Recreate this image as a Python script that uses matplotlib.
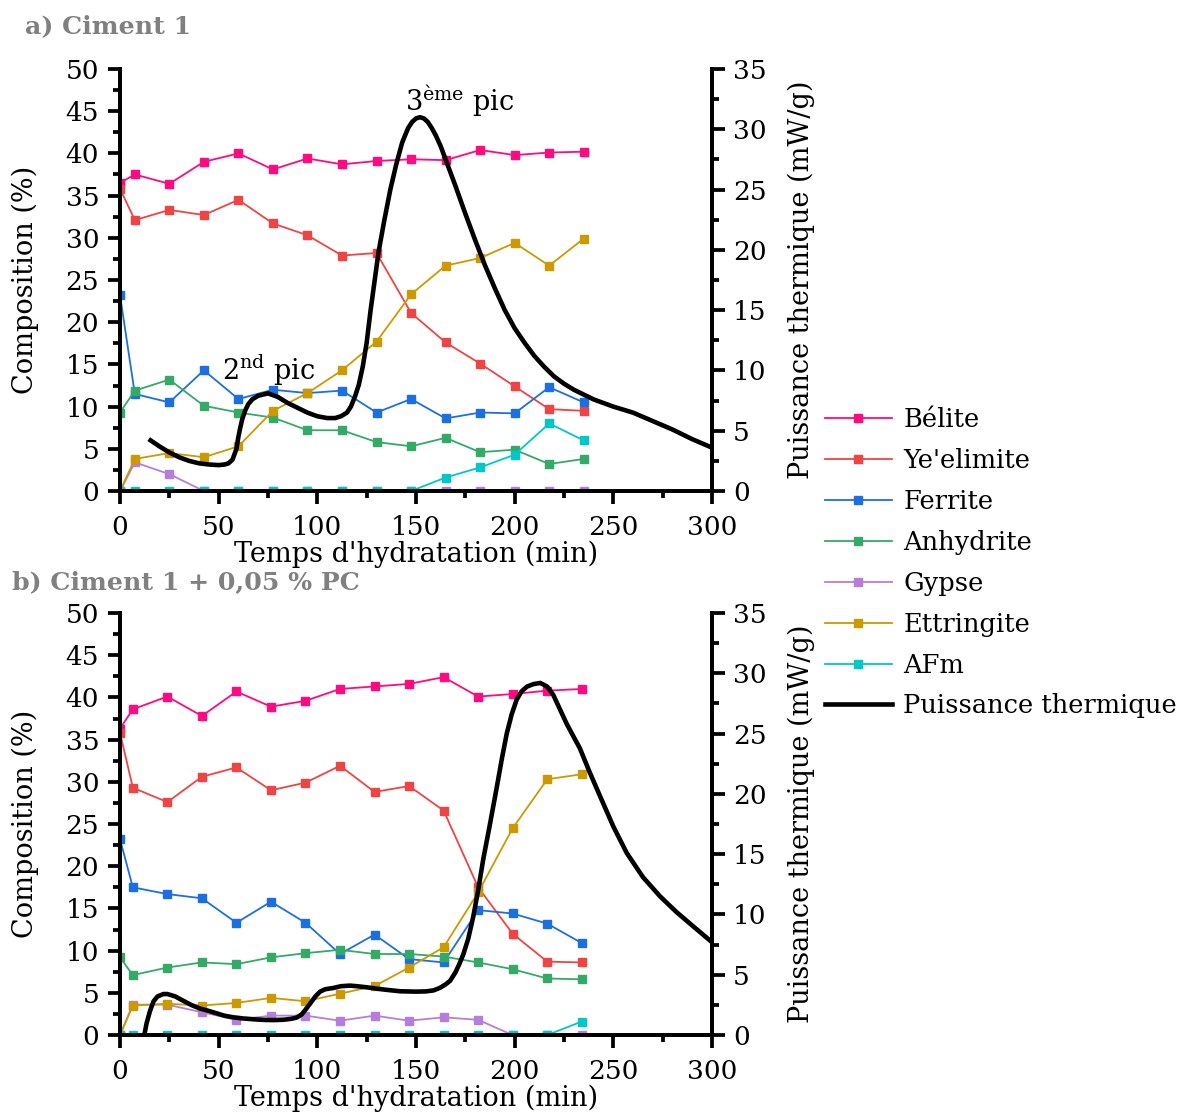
import numpy as np
import matplotlib
matplotlib.use("Agg")
import matplotlib.pyplot as plt
from matplotlib.ticker import MultipleLocator

plt.rcParams['font.family'] = ['DejaVu Serif']
plt.rcParams['mathtext.fontset'] = 'dejavuserif'

# temps des mesures DRX (min)
t_a = [0, 7.5, 25, 42.5, 60, 77.5, 95, 112.5, 130, 147.5, 165, 182.5, 200, 217.5, 235]
t_b = [0, 6.5, 24, 41.5, 59, 76.5, 94, 111.5, 129, 146.5, 164, 181.5, 199, 216.5, 234]

# a) Ciment 1
belite_a = [36.5, 37.5, 36.4, 39.0, 40.0, 38.1, 39.4, 38.7, 39.1, 39.3, 39.2, 40.4, 39.8, 40.1, 40.2]
yeelimite_a = [35.8, 32.1, 33.3, 32.7, 34.5, 31.7, 30.3, 27.9, 28.2, 21.1, 17.6, 15.1, 12.4, 9.7, 9.5]
ferrite_a = [23.2, 11.5, 10.5, 14.3, 10.9, 12.0, 11.6, 11.9, 9.3, 10.9, 8.6, 9.3, 9.2, 12.3, 10.5]
anhydrite_a = [9.3, 11.9, 13.2, 10.1, 9.3, 8.7, 7.2, 7.2, 5.8, 5.3, 6.3, 4.6, 4.9, 3.2, 3.8]
gypse_a = [0, 3.4, 2.0, 0, 0, 0, 0, 0, 0, 0, 0, 0, 0, 0, 0]
ettringite_a = [0, 3.8, 4.5, 4.0, 5.3, 9.5, 11.6, 14.3, 17.7, 23.3, 26.7, 27.6, 29.4, 26.7, 29.9]
afm_a = [0, 0, 0, 0, 0, 0, 0, 0, 0, 0, 1.6, 2.8, 4.3, 8.0, 6.0]

# b) Ciment 1 + 0,05 % PC
belite_b = [36.3, 38.6, 40.1, 37.8, 40.7, 38.9, 39.6, 41.0, 41.3, 41.6, 42.4, 40.1, 40.4, 40.8, 41.0]
yeelimite_b = [35.8, 29.3, 27.6, 30.6, 31.7, 29.0, 29.9, 31.9, 28.8, 29.5, 26.6, 17.5, 12.0, 8.7, 8.6]
ferrite_b = [23.2, 17.5, 16.7, 16.2, 13.3, 15.8, 13.3, 9.6, 11.9, 9.0, 8.6, 14.8, 14.4, 13.2, 10.9]
anhydrite_b = [9.2, 7.1, 8.0, 8.6, 8.4, 9.2, 9.7, 10.1, 9.6, 9.6, 9.3, 8.6, 7.8, 6.7, 6.6]
gypse_b = [0, 3.6, 3.6, 2.7, 1.8, 2.3, 2.3, 1.7, 2.3, 1.7, 2.1, 1.8, 0, 0, 0]
ettringite_b = [0, 3.5, 3.7, 3.5, 3.8, 4.4, 4.0, 4.9, 5.8, 8.0, 10.4, 16.9, 24.5, 30.3, 30.9]
afm_b = [0, 0, 0, 0, 0, 0, 0, 0, 0, 0, 0, 0, 0, 0, 1.6]

# puissance thermique (mW/g)
heat_t_a = [15.5, 20, 25, 30, 35, 40, 45, 50, 53, 55, 57, 59, 60, 61, 62, 63.5, 65, 67, 70,
            75, 80, 85, 90, 95, 100, 105, 109, 112, 115, 117, 119, 121, 123, 125, 127, 129,
            131, 134, 137, 140, 143, 146, 148, 150, 152, 154, 156, 158, 160, 162.5, 165,
            170, 175, 180, 185, 190, 195, 200, 205, 210, 215, 220, 225, 230, 235, 240,
            250, 260, 270, 280, 290, 300]
heat_a = [4.2, 3.7, 3.2, 2.8, 2.5, 2.3, 2.2, 2.15, 2.2, 2.3, 2.6, 3.5, 4.5, 5.3, 6.0, 6.7,
          7.2, 7.6, 7.9, 8.1, 7.8, 7.3, 6.9, 6.5, 6.2, 6.05, 6.05, 6.2, 6.5, 7.0, 7.8, 8.8,
          10.3, 12.3, 15.0, 17.4, 19.8, 22.5, 25.0, 27.1, 28.9, 30.1, 30.6, 30.9, 31.0,
          30.9, 30.6, 30.1, 29.5, 28.6, 27.5, 25.3, 23.0, 20.8, 18.7, 16.8, 15.0, 13.5,
          12.3, 11.2, 10.3, 9.5, 8.9, 8.4, 8.0, 7.6, 7.0, 6.5, 5.8, 5.1, 4.3, 3.6]

heat_t_b = [12.3, 13.5, 15.2, 17, 19, 22, 24, 28, 32, 36, 40.5, 45, 49, 53, 57.4, 62, 66,
            70, 74, 78, 83, 87, 89.5, 92, 94, 96.3, 99, 101.4, 104, 108, 112, 116.5, 120,
            125, 130, 135, 142, 150, 155, 158.8, 162, 165, 167.3, 170, 172, 174, 176.5, 179,
            181.5, 184, 187.5, 191, 193.5, 196, 198.5, 201, 203.5, 206.3, 209.5, 213,
            216.5, 219.6, 223, 226.4, 230, 233, 238, 243.3, 250, 256.8, 265, 273.7, 282,
            290.6, 300]
heat_b = [0, 1.0, 2.0, 2.8, 3.2, 3.4, 3.4, 3.2, 2.85, 2.5, 2.2, 2.0, 1.8, 1.6, 1.47, 1.38,
          1.33, 1.28, 1.25, 1.24, 1.27, 1.35, 1.45, 1.7, 2.1, 2.6, 3.2, 3.6, 3.8, 3.9, 4.05,
          4.1, 4.05, 3.96, 3.85, 3.75, 3.63, 3.6, 3.62, 3.7, 3.9, 4.2, 4.5, 5.2, 5.9, 6.7,
          8.0, 9.8, 12.0, 14.5, 17.5, 20.6, 22.9, 25.0, 26.6, 27.8, 28.5, 28.9, 29.1, 29.2,
          28.9, 28.2, 27.0, 25.8, 24.7, 23.8, 21.8, 19.8, 17.3, 15.1, 13.1, 11.5, 10.2,
          9.0, 7.7]

names = ["Bélite", "Ye'elimite", "Ferrite", "Anhydrite", "Gypse", "Ettringite", "AFm"]
colors = ["#FF0A80", "#F04444", "#1C6FE0", "#33AA66", "#B57EDC", "#CC9900", "#00C8C8"]

FS = 19.5
FT = 19


def panel(ax, t, series, ht, hv):
    for vals, name, c in zip(series, names, colors):
        ax.plot(t, vals, '-s', color=c, lw=1.3, ms=6, label=name)
    ax.set_xlim(0, 300)
    ax.set_ylim(0, 50)
    ax.xaxis.set_major_locator(MultipleLocator(50))
    ax.xaxis.set_minor_locator(MultipleLocator(25))
    ax.yaxis.set_major_locator(MultipleLocator(5))
    ax.yaxis.set_minor_locator(MultipleLocator(2.5))
    ax.set_xlabel("Temps d'hydratation (min)", fontsize=FS, labelpad=1)
    ax.set_ylabel("Composition (%)", fontsize=FS, labelpad=19)
    ax2 = ax.twinx()
    ax2.plot(ht, hv, '-', color='black', lw=3.3, label="Puissance thermique")
    ax2.set_ylim(0, 35)
    ax2.yaxis.set_major_locator(MultipleLocator(5))
    ax2.yaxis.set_minor_locator(MultipleLocator(2.5))
    ax2.set_ylabel("Puissance thermique (mW/g)", fontsize=FS, labelpad=15)
    for a in (ax, ax2):
        a.spines['top'].set_visible(False)
        for s in a.spines.values():
            s.set_linewidth(2.7)
        a.tick_params(which='major', length=9, width=2.7, labelsize=FT, direction='out', pad=6)
        a.tick_params(which='minor', length=5, width=2.7, direction='out')
    ax.tick_params(axis='x', which='major', pad=8)
    return ax2


fig = plt.figure(figsize=(11.99, 11.18), dpi=100)
ax_a = fig.add_axes([0.1001, 0.5608, 0.4937, 0.3775])
ax_b = fig.add_axes([0.1001, 0.0742, 0.4937, 0.3775])

ax2_a = panel(ax_a, t_a, [belite_a, yeelimite_a, ferrite_a, anhydrite_a, gypse_a, ettringite_a, afm_a],
              heat_t_a, heat_a)
ax2_b = panel(ax_b, t_b, [belite_b, yeelimite_b, ferrite_b, anhydrite_b, gypse_b, ettringite_b, afm_b],
              heat_t_b, heat_b)

ax_a.text(144.5, 45.0, "3$^{\\mathrm{ème}}$ pic", fontsize=FS, ha='left', va='baseline')
ax_a.text(51.5, 13.2, "2$^{\\mathrm{nd}}$ pic", fontsize=FS, ha='left', va='baseline')

fig.text(0.021, 0.977, "a) Ciment 1", fontsize=18.2, fontweight='bold', color='#808080',
         ha='left', va='center')
fig.text(0.010, 0.479, "b) Ciment 1 + 0,05 % PC", fontsize=18.2, fontweight='bold', color='#808080',
         ha='left', va='center')

h1, l1 = ax_a.get_legend_handles_labels()
h2, l2 = ax2_a.get_legend_handles_labels()
fig.legend(h1 + h2, l1 + l2, loc='upper left', bbox_to_anchor=(0.688, 0.636), frameon=False,
           fontsize=18.5, handlelength=2.6, handletextpad=0.45, labelspacing=0.62, borderpad=0,
           borderaxespad=0)

fig.savefig("out.png", dpi=100)
